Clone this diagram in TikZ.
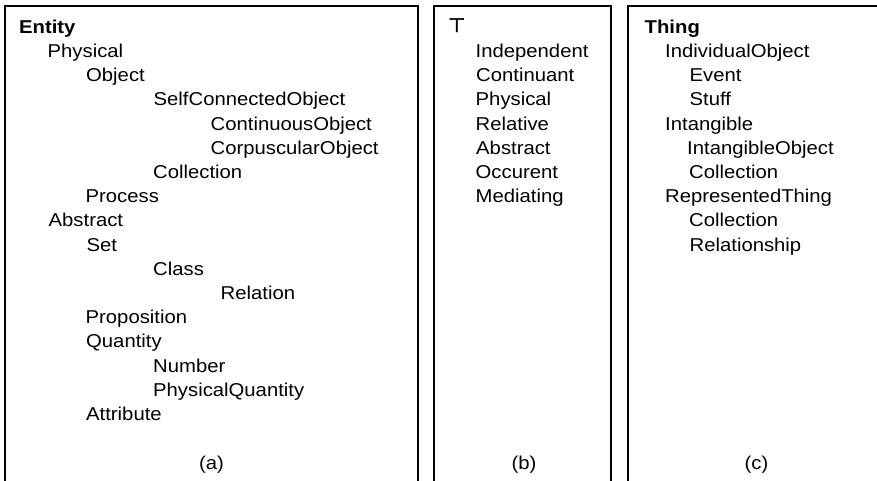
\documentclass[tikz,border=0pt]{standalone}
\usepackage{fontspec}
\setmainfont{Liberation Sans}[FakeStretch=1.09]
\newfontfamily\symbolfont{DejaVu Sans}[FakeBold=2.5]
\begin{document}
\begin{tikzpicture}[x=1pt,y=-1pt,
  term/.style={anchor=base west, inner sep=0pt, font=\fontsize{18.6}{22}\selectfont},
  root/.style={term, font=\fontsize{18.6}{22}\selectfont\bfseries},
  caption/.style={anchor=base, inner sep=0pt, font=\fontsize{18.6}{22}\selectfont},
  frame/.style={draw=black, line width=1.3pt}]
\useasboundingbox (0,0) rectangle (877,480);

% three open-bottomed panels
\draw[frame] (5,500) -- (5,6) -- (418,6) -- (418,500);
\draw[frame] (434,500) -- (434,6) -- (611,6) -- (611,500);
\draw[frame] (628,500) -- (628,6) -- (885,6) -- (885,500);

% panel (a)
\node[root] (aEntity)   at (19,33.3)  {Entity};
\node[term] (aPhys)     at (47.5,57.5)  {Physical};
\node[term] (aObj)      at (86,81.7)  {Object};
\node[term] (aSelf)     at (153.5,105.9) {SelfConnectedObject};
\node[term] (aCont)     at (210.5,130.1) {ContinuousObject};
\node[term] (aCorp)     at (210.5,154.3) {CorpuscularObject};
\node[term] (aColl)     at (153,178.5) {Collection};
\node[term] (aProc)     at (85.5,202.7) {Process};
\node[term] (aAbs)      at (48.5,226.9) {Abstract};
\node[term] (aSet)      at (86.5,251.1) {Set};
\node[term] (aClass)    at (153,275.3) {Class};
\node[term] (aRel)      at (220.5,299.5) {Relation};
\node[term] (aProp)     at (85.5,323.7) {Proposition};
\node[term] (aQuant)    at (86,347.9) {Quantity};
\node[term] (aNum)      at (153,372.1) {Number};
\node[term] (aPQ)       at (153,396.3) {PhysicalQuantity};
\node[term] (aAttr)     at (86,420.5) {Attribute};
\node[caption] (capA)   at (211.5,469.5) {(a)};

% panel (b)
\node[anchor=base west, inner sep=0pt, font=\fontsize{19.5}{24}\symbolfont] (bTop) at (448,32) {⊤};
\node[term] (bInd)      at (475.5,57.5)  {Independent};
\node[term] (bCont)     at (476,81.7)  {Continuant};
\node[term] (bPhys)     at (475.5,105.9) {Physical};
\node[term] (bRel)      at (475.5,130.1) {Relative};
\node[term] (bAbs)      at (476,154.3) {Abstract};
\node[term] (bOcc)      at (475.5,178.5) {Occurent};
\node[term] (bMed)      at (475.5,202.7) {Mediating};
\node[caption] (capB)   at (524,469.5) {(b)};

% panel (c)
\node[root] (cThing)    at (644.5,33.3)  {Thing};
\node[term] (cInd)      at (665,57.5)  {IndividualObject};
\node[term] (cEvent)    at (689.5,81.7)  {Event};
\node[term] (cStuff)    at (689.5,105.9) {Stuff};
\node[term] (cIntang)   at (665,130.1) {Intangible};
\node[term] (cIntObj)   at (687,154.3) {IntangibleObject};
\node[term] (cColl)     at (689,178.5) {Collection};
\node[term] (cRep)      at (665,202.7) {RepresentedThing};
\node[term] (cColl2)    at (689,226.9) {Collection};
\node[term] (cRelship)  at (689.5,251.1) {Relationship};
\node[caption] (capC)   at (756.5,469.5) {(c)};
\end{tikzpicture}
\end{document}
